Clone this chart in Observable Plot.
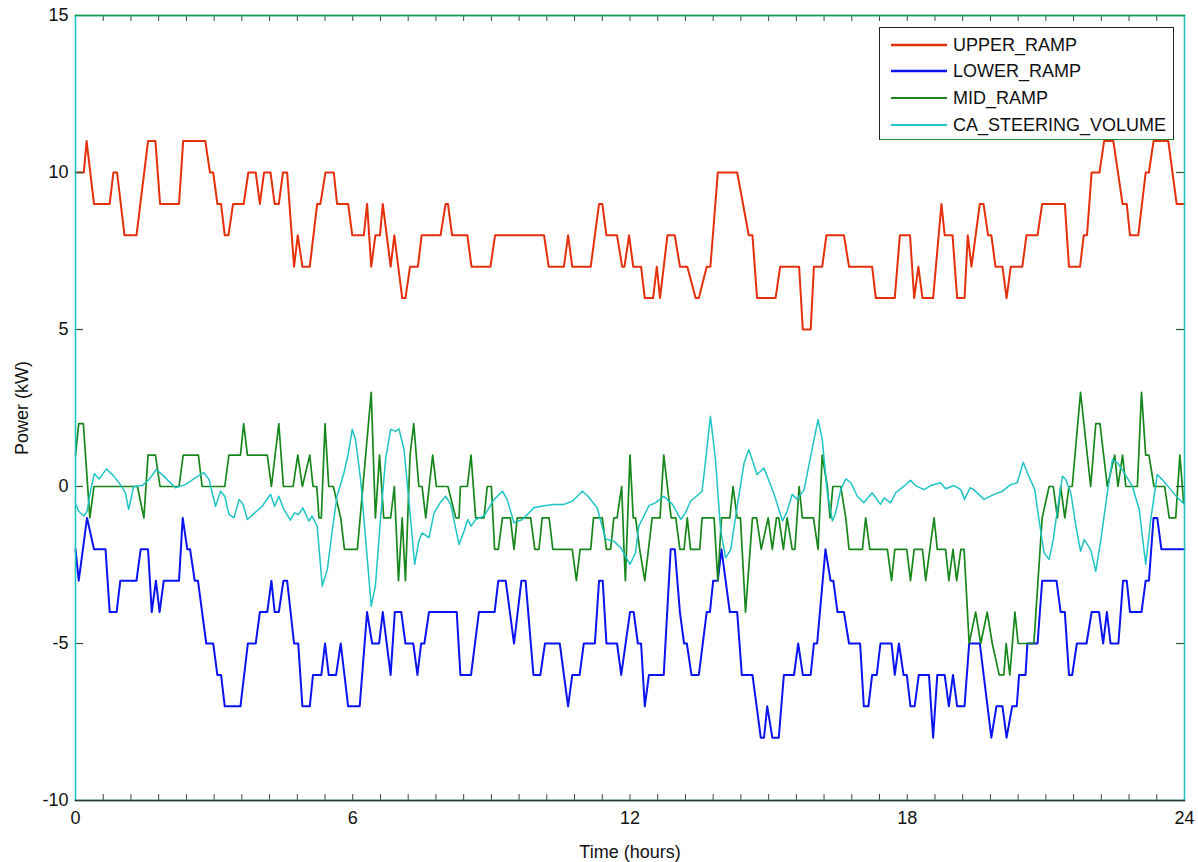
<!DOCTYPE html>
<html>
<head>
<meta charset="utf-8">
<script src="https://cdn.jsdelivr.net/npm/d3@7"></script>
<script src="https://cdn.jsdelivr.net/npm/@observablehq/plot@0.6"></script>
<style>
  html, body { margin: 0; padding: 0; background: #fff; }
  #wrap { position: relative; width: 1198px; height: 862px; font-family: "Liberation Sans", Arial, sans-serif; }
  #legend { position: absolute; left: 879px; top: 27px; width: 295px; height: 113px; background: #fff;
            border: 1.5px solid #222; border-bottom-color: #1e8a2a; box-sizing: border-box; }
  .row { position: absolute; left: 0; height: 20px; display: flex; align-items: center; }
  .sw { width: 56px; margin-left: 11px; margin-right: 6px; }
  .lab { font-size: 18px; color: #111; white-space: nowrap; }
</style>
</head>
<body>
<div id="wrap"><div id="chart"></div><div id="legend"></div></div>
<script>
// ---- data ----
const seriesNames = ["UPPER_RAMP", "LOWER_RAMP", "MID_RAMP", "CA_STEERING_VOLUME"];
const seriesColors = ["#e4300c", "#0a14f0", "#17871c", "#1fc4c4"];
const seriesWidths = [2, 2, 1.7, 1.5];

const upperT = [0,0.18,0.24,0.40,0.74,0.82,0.90,1.06,1.32,1.57,1.73,1.83,2.24,2.33,2.81,2.91,2.98,3.07,3.15,3.23,3.31,3.41,3.64,3.74,3.90,3.99,4.08,4.22,4.31,4.40,4.49,4.58,4.73,4.81,4.91,5.07,5.23,5.30,5.41,5.59,5.66,5.90,5.99,6.24,6.31,6.40,6.49,6.59,6.65,6.82,6.90,7.07,7.14,7.24,7.41,7.49,7.90,8.01,8.06,8.15,8.48,8.57,8.98,9.08,10.14,10.24,10.57,10.66,10.75,11.15,11.33,11.40,11.49,11.72,11.83,11.88,11.98,12.07,12.24,12.32,12.50,12.58,12.65,12.81,12.97,13.08,13.24,13.42,13.49,13.66,13.74,13.90,14.32,14.57,14.65,14.75,15.15,15.25,15.66,15.74,15.91,15.98,16.16,16.25,16.63,16.74,17.24,17.32,17.73,17.84,18.06,18.15,18.24,18.33,18.56,18.74,18.81,18.98,19.08,19.24,19.31,19.39,19.57,19.65,19.75,19.82,19.91,20.06,20.15,20.24,20.49,20.58,20.82,20.92,21.41,21.50,21.74,21.82,21.89,21.99,22.16,22.26,22.46,22.66,22.75,22.82,23.0,23.16,23.23,23.33,23.65,23.83,24];
const upperV = [10,10,11,9,9,10,10,8,8,11,11,9,9,11,11,10,10,9,9,8,8,9,9,10,10,9,10,10,9,9,10,10,7,8,7,7,9,9,10,10,9,9,8,8,9,7,8,8,9,7,8,6,6,7,7,8,8,9,9,8,8,7,7,8,8,7,7,8,7,7,9,9,8,8,7,7,8,7,7,6,6,7,6,8,8,7,7,6,6,7,7,10,10,8,8,6,6,7,7,5,5,7,7,8,8,7,7,6,6,8,8,6,7,6,6,9,8,8,6,6,8,7,9,9,8,8,7,7,6,7,7,8,8,9,9,7,7,8,8,10,10,11,11,9,9,8,8,10,10,11,11,9,9];

const lowerT = [0,0.07,0.25,0.40,0.65,0.74,0.89,0.97,1.32,1.41,1.57,1.65,1.74,1.82,1.91,2.24,2.32,2.42,2.48,2.58,2.65,2.83,2.98,3.07,3.15,3.23,3.57,3.73,3.90,3.99,4.15,4.24,4.31,4.40,4.50,4.58,4.73,4.82,4.91,5.07,5.14,5.32,5.40,5.48,5.64,5.74,5.90,6.15,6.31,6.42,6.57,6.65,6.82,6.91,7.05,7.14,7.31,7.40,7.48,7.55,7.65,8.25,8.33,8.56,8.73,9.07,9.15,9.31,9.49,9.65,9.74,9.91,10.06,10.16,10.48,10.66,10.75,10.91,11.00,11.24,11.33,11.41,11.49,11.72,11.81,12.0,12.08,12.17,12.24,12.32,12.41,12.73,12.88,12.97,13.08,13.17,13.23,13.33,13.49,13.66,13.73,13.80,13.90,13.98,14.16,14.32,14.42,14.65,14.83,14.90,14.97,15.08,15.22,15.33,15.55,15.64,15.74,15.91,15.98,16.05,16.23,16.34,16.40,16.49,16.63,16.74,16.98,17.06,17.16,17.24,17.34,17.42,17.66,17.73,17.82,17.92,17.99,18.07,18.16,18.25,18.47,18.56,18.65,18.81,18.90,18.99,19.08,19.24,19.34,19.57,19.82,19.93,20.06,20.15,20.27,20.37,20.42,20.56,20.60,20.82,20.92,21.23,21.32,21.41,21.50,21.57,21.67,21.88,21.99,22.15,22.24,22.32,22.40,22.57,22.67,22.75,22.82,23.07,23.16,23.23,23.33,23.41,23.50,24];
const lowerV = [-2,-3,-1,-2,-2,-4,-4,-3,-3,-2,-2,-4,-3,-4,-3,-3,-1,-2,-2,-3,-3,-5,-5,-6,-6,-7,-7,-5,-5,-4,-4,-3,-4,-4,-3,-3,-5,-5,-7,-7,-6,-6,-5,-6,-6,-5,-7,-7,-4,-5,-5,-4,-6,-4,-4,-5,-5,-6,-5,-5,-4,-4,-6,-6,-4,-4,-3,-3,-5,-3,-3,-6,-6,-5,-5,-7,-6,-6,-5,-5,-3,-3,-5,-5,-6,-4,-4,-5,-5,-7,-6,-6,-2,-2,-4,-5,-5,-6,-6,-4,-4,-3,-3,-2,-4,-4,-6,-6,-8,-8,-7,-8,-8,-6,-6,-5,-6,-6,-5,-5,-2,-3,-3,-4,-4,-5,-5,-7,-7,-6,-6,-5,-5,-6,-5,-6,-6,-7,-7,-6,-6,-8,-6,-6,-7,-6,-7,-7,-5,-5,-8,-7,-7,-8,-7,-7,-6,-6,-5,-5,-3,-3,-4,-4,-6,-6,-5,-5,-4,-4,-5,-4,-5,-5,-3,-3,-4,-4,-3,-3,-1,-1,-2,-2];

const midT = [0,0.07,0.17,0.31,0.40,1.34,1.48,1.57,1.73,1.83,2.24,2.33,2.66,2.74,3.23,3.32,3.57,3.64,3.72,4.15,4.24,4.40,4.50,4.71,4.81,4.91,5.07,5.14,5.22,5.27,5.32,5.40,5.48,5.58,5.74,5.82,6.10,6.40,6.49,6.58,6.67,6.82,6.90,6.99,7.07,7.14,7.24,7.32,7.43,7.50,7.58,7.73,7.81,8.06,8.23,8.30,8.33,8.48,8.56,8.66,8.84,8.91,9.00,9.07,9.15,9.24,9.41,9.49,9.56,9.85,9.94,10.03,10.10,10.25,10.33,10.75,10.84,10.92,11.15,11.21,11.40,11.49,11.58,11.65,11.72,11.82,11.87,11.90,12.0,12.07,12.12,12.21,12.32,12.48,12.65,12.73,12.89,12.99,13.08,13.17,13.24,13.31,13.51,13.56,13.82,13.90,13.98,14.16,14.23,14.32,14.39,14.50,14.65,14.74,14.84,14.99,15.08,15.17,15.22,15.32,15.40,15.51,15.57,15.66,15.73,15.97,16.07,16.16,16.27,16.33,16.39,16.56,16.67,16.74,17.03,17.10,17.19,17.57,17.66,17.73,17.99,18.07,18.15,18.33,18.40,18.58,18.65,18.83,18.90,18.99,19.07,19.16,19.23,19.34,19.48,19.59,19.73,19.84,19.99,20.09,20.14,20.22,20.33,20.40,20.74,20.92,21.07,21.16,21.25,21.32,21.41,21.50,21.57,21.75,21.97,22.08,22.17,22.33,22.49,22.56,22.66,22.73,22.98,23.07,23.16,23.23,23.34,23.57,23.67,23.81,23.90,23.98,24];
const midV = [1,2,2,-1,0,0,-1,1,1,0,0,1,1,0,0,1,1,2,1,1,0,2,0,0,1,0,1,0,0,-1,-1,2,0,0,-1,-2,-2,3,-1,1,-1,-1,0,-3,-1,-3,1,2,0,0,-1,1,0,0,-1,-1,0,0,1,-1,-1,0,0,-2,-2,-1,-1,-2,-1,-1,-2,-2,-1,-1,-2,-2,-3,-2,-2,-1,-1,-2,-2,-1,-1,0,-2,-3,1,-1,-1,-2,-3,-1,-1,1,-1,-1,-2,-2,-1,-2,-2,-1,-1,-3,-1,-1,0,-1,-1,-4,-1,-1,-2,-1,-2,-1,-1,-2,-1,-2,-2,0,-1,-1,-2,1,0,-1,0,0,-1,-2,-2,-1,-2,-2,-3,-2,-2,-3,-2,-2,-3,-1,-2,-2,-3,-2,-3,-2,-2,-5,-4,-5,-4,-5,-6,-6,-5,-6,-4,-5,-5,-1,0,0,-1,0,-1,0,0,3,0,2,2,0,1,0,1,0,0,3,1,1,0,0,-1,-1,1,-0.5,-0.5];

const steerT = [0,0.07,0.18,0.25,0.33,0.41,0.51,0.67,0.83,0.97,1.08,1.15,1.26,1.44,1.59,1.75,1.91,2.16,2.38,2.60,2.78,2.89,3.03,3.14,3.23,3.32,3.43,3.54,3.63,3.72,3.82,4.04,4.22,4.31,4.40,4.51,4.65,4.74,4.83,4.92,5.05,5.12,5.23,5.34,5.45,5.56,5.66,5.81,5.90,5.99,6.06,6.17,6.28,6.40,6.49,6.60,6.71,6.82,6.93,7.00,7.11,7.24,7.34,7.43,7.50,7.65,7.76,7.89,8.01,8.12,8.30,8.41,8.49,8.56,8.66,8.84,9.06,9.24,9.34,9.49,9.67,9.92,10.14,10.35,10.57,10.75,10.97,11.09,11.29,11.47,11.65,11.80,12.0,12.12,12.19,12.30,12.41,12.55,12.73,12.92,13.10,13.20,13.31,13.56,13.67,13.74,13.85,13.96,14.07,14.18,14.32,14.47,14.57,14.75,14.90,15.12,15.30,15.40,15.51,15.62,15.77,15.91,16.07,16.16,16.27,16.38,16.45,16.56,16.67,16.78,16.92,17.06,17.24,17.42,17.50,17.64,17.75,17.93,18.07,18.18,18.36,18.51,18.72,18.83,19.01,19.16,19.24,19.36,19.44,19.66,19.88,20.06,20.24,20.38,20.51,20.60,20.76,20.85,20.96,21.07,21.16,21.25,21.36,21.43,21.54,21.65,21.75,21.83,21.97,22.08,22.19,22.33,22.44,22.55,22.69,22.87,23.02,23.16,23.27,23.41,23.52,23.70,23.85,24.0];
const steerV = [-0.55,-0.79,-0.94,-0.79,-0.1,0.41,0.24,0.56,0.33,0.06,-0.2,-0.73,0,0.03,0.22,0.54,0.33,-0.04,0.06,0.28,0.44,0.22,-0.63,-0.15,-0.31,-0.89,-1.0,-0.41,-0.57,-1.05,-0.92,-0.63,-0.25,-0.63,-0.31,-0.73,-1.07,-0.84,-0.89,-0.68,-1.1,-0.94,-1.26,-3.17,-2.64,-1.37,-0.31,0.44,1.02,1.82,1.5,0.22,-1.69,-3.81,-3.17,-1.05,0.86,1.82,1.76,1.84,1.18,-0.84,-2.48,-1.74,-1.48,-1.63,-0.84,-0.52,-0.31,-0.57,-1.85,-1.42,-1.05,-1.26,-1.05,-0.94,-0.41,-0.15,-0.41,-1.16,-1.05,-0.68,-0.61,-0.57,-0.57,-0.47,-0.15,-0.31,-0.68,-1.67,-1.74,-1.95,-2.48,-2.11,-1.26,-0.94,-0.61,-0.52,-0.31,-0.57,-1.05,-0.84,-0.47,-0.15,1.28,2.24,0.86,-1.37,-2.27,-2.01,-0.63,0.75,1.18,0.38,0.59,-0.25,-1.10,-0.79,-0.25,-0.41,-0.1,0.97,2.13,1.5,-0.2,-1.10,-0.84,-0.1,0.24,0.12,-0.31,-0.52,-0.2,-0.57,-0.36,-0.52,-0.2,0.01,0.2,0.03,-0.1,0.03,0.12,-0.07,0.03,-0.1,-0.41,-0.04,-0.1,-0.41,-0.25,-0.15,0.06,0.12,0.77,0.44,-0.1,-1.05,-2.11,-2.32,-1.69,-0.73,0.33,0.22,-0.2,-1.26,-2.06,-1.69,-2.01,-2.70,-1.69,-0.2,0.86,0.75,0.44,0.01,-0.73,-2.48,-1.05,0.38,0.22,-0.1,-0.36,-0.57];

const xTickValues = [0, 6, 12, 18, 24];
const yTickValues = [-10, -5, 0, 5, 10, 15];
const yInnerTicks = [-5, 0, 5, 10];
const xMinorTicks = d3.range(0, 41).map(i => +(i * 0.6).toFixed(1));

// ---- build table ----
const tSeries = [upperT, lowerT, midT, steerT];
const vSeries = [upperV, lowerV, midV, steerV];
const rows = [];
seriesNames.forEach((name, k) => {
  tSeries[k].forEach((t, i) => rows.push({series: name, t, v: vSeries[k][i]}));
});

const W = 1198, H = 862, mL = 75, mR = 14, mT = 15, mB = 62;
const innerW = W - mL - mR, innerH = H - mT - mB;

const marks = [];
seriesNames.forEach((name, k) => {
  marks.push(Plot.line(rows.filter(d => d.series === name), {
    x: "t", y: "v", stroke: seriesColors[k], strokeWidth: seriesWidths[k], curve: "linear"
  }));
});
marks.push(
  Plot.tickY(yInnerTicks, {y: d => d, insetRight: innerW - 8, stroke: "#2a5a32", strokeWidth: 1.2}),
  Plot.tickY(yInnerTicks, {y: d => d, insetLeft: innerW - 8, stroke: "#2a5a32", strokeWidth: 1.2}),
  Plot.tickX(xMinorTicks, {x: d => d, insetTop: innerH - 6, stroke: "#3a4a3e", strokeWidth: 1}),
  Plot.tickX(xMinorTicks, {x: d => d, insetBottom: innerH - 6, stroke: "#3a4a3e", strokeWidth: 1}),
  Plot.frame({stroke: "#22c4c0", strokeWidth: 1.6}),
  Plot.frame({anchor: "top", stroke: "#1f9a4a", strokeWidth: 1.6}),
  Plot.frame({anchor: "bottom", stroke: "#333", strokeWidth: 1.4}),
  Plot.axisX({ticks: xTickValues, tickSize: 0, tickPadding: 11, fontSize: 18,
              label: "Time (hours)", labelAnchor: "center", labelArrow: false, labelOffset: 57}),
  Plot.axisY({ticks: yTickValues, tickSize: 0, tickPadding: 7, fontSize: 18, tickFormat: d => String(d),
              label: "Power (kW)", labelAnchor: "center", labelArrow: false, labelOffset: 60})
);

const chart = Plot.plot({
  width: W, height: H,
  marginLeft: mL, marginRight: mR, marginTop: mT, marginBottom: mB,
  x: {domain: [0, 24]},
  y: {domain: [-10, 15]},
  style: {background: "#fff", color: "#111", fontFamily: "'Liberation Sans', Arial, sans-serif", fontSize: "18px"},
  marks
});
document.getElementById("chart").appendChild(chart);

// ---- legend ----
const legend = document.getElementById("legend");
const rowTops = [7, 33, 60, 87];
seriesNames.forEach((name, k) => {
  const r = document.createElement("div");
  r.className = "row";
  r.style.top = rowTops[k] + "px";
  r.innerHTML = `<svg class="sw" width="56" height="6"><line x1="0" x2="56" y1="3" y2="3" stroke="${seriesColors[k]}" stroke-width="${seriesWidths[k] + 0.5}"/></svg><span class="lab">${name}</span>`;
  legend.appendChild(r);
});
</script>
</body>
</html>
